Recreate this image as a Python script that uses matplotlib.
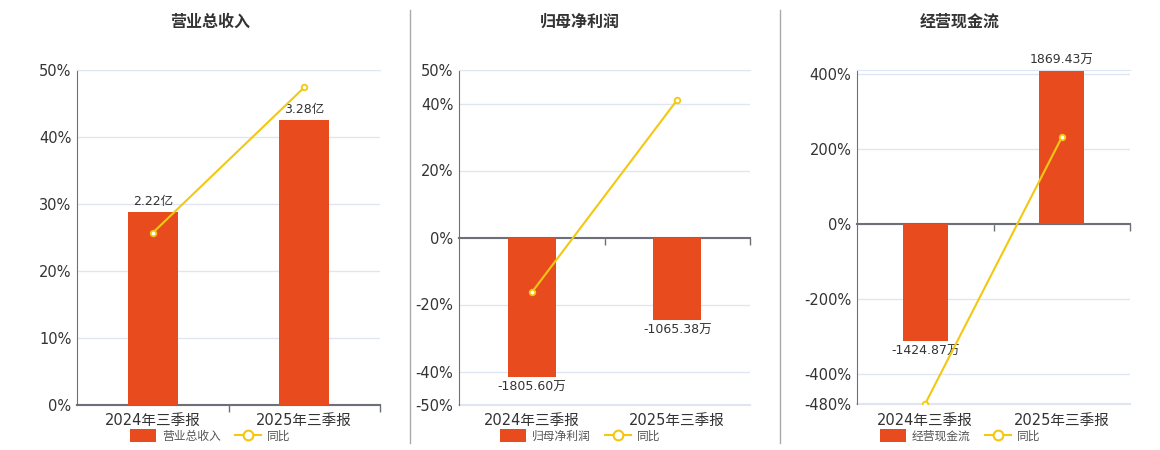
import matplotlib
matplotlib.use("Agg")
import matplotlib.pyplot as plt
import matplotlib.transforms as mtransforms
from matplotlib.lines import Line2D
from matplotlib.patches import Patch

plt.rcParams["font.family"] = ["DejaVu Sans", "Noto Sans CJK SC"]

# data
categories = ["2024年三季报", "2025年三季报"]
titles = ["营业总收入", "归母净利润", "经营现金流"]
units = ["亿", "万", "万"]

revenue = [2.22, 3.28]             # 亿
revenue_yoy = [25.7, 47.4]         # %
net_profit = [-1805.60, -1065.38]  # 万
net_profit_yoy = [-16.4, 41.1]
cash_flow = [-1424.87, 1869.43]    # 万
cash_flow_yoy = [-479.0, 232.0]

bar_series = [revenue, net_profit, cash_flow]
yoy_series = [revenue_yoy, net_profit_yoy, cash_flow_yoy]

pct_limits = [(0, 50), (-50, 50), (-480, 412)]
pct_ticks = [[0, 10, 20, 30, 40, 50],
             [-50, -40, -20, 0, 20, 40, 50],
             [-480, -400, -200, 0, 200, 400]]
# bar units per percent on the hidden bar axis
bar_scale = [0.0772, 43.3, 4.58]

# pixel layout (left, right, top, bottom) and panel centres
W, H = 1160, 450
rects = [(77, 380, 70, 405), (459, 750, 70, 405), (857, 1130, 70, 404)]
centres = [210, 580, 960]
separators = [410, 780]

BAR = "#e84c1e"
LINE = "#f2c811"
GRID = "#e0e6f1"
AXIS = "#6e7079"
TEXT = "#333333"

fig = plt.figure(figsize=(W / 100, H / 100), dpi=100)

for i in range(3):
    l, r, t, b = rects[i]
    rect = [l / W, 1 - b / H, (r - l) / W, (b - t) / H]
    ax = fig.add_axes(rect)
    bax = ax.twinx()
    lax = ax.twinx()
    ax.set_zorder(0)
    bax.set_zorder(1)
    lax.set_zorder(2)
    for a in (bax, lax):
        a.patch.set_visible(False)
        a.axis("off")

    lo, hi = pct_limits[i]
    ax.set_ylim(lo, hi)
    lax.set_ylim(lo, hi)
    bax.set_ylim(lo * bar_scale[i], hi * bar_scale[i])
    for a in (ax, bax, lax):
        a.set_xlim(-0.5, 1.5)

    # percent axis, grid and spines
    ax.set_yticks(pct_ticks[i])
    ax.set_yticklabels([f"{v}%" for v in pct_ticks[i]])
    ax.tick_params(axis="y", length=0, pad=4, labelsize=10.5, labelcolor=TEXT)
    ax.yaxis.grid(True, color=GRID, lw=1)
    ax.set_axisbelow(True)
    ax.axhline(lo, color=GRID, lw=1.5, clip_on=False, zorder=0)
    ax.spines["right"].set_visible(False)
    ax.spines["top"].set_color(GRID)
    ax.spines["left"].set_color(AXIS)
    ax.spines["bottom"].set_color(AXIS)
    ax.spines["bottom"].set_linewidth(1.5)
    ax.spines["bottom"].set_position(("data", 0))
    ax.spines["bottom"].set_zorder(3)
    ax.set_xticks([])
    ax.set_xticks([0.5, 1.5], minor=True)
    ax.tick_params(axis="x", which="minor", length=5, color=AXIS, width=1)

    # category labels at the bottom of the plot
    trans = mtransforms.blended_transform_factory(ax.transData, fig.transFigure)
    for x, cat in enumerate(categories):
        ax.text(x, 1 - 420 / H, cat, transform=trans, ha="center", va="center",
                fontsize=10.5, color=TEXT)

    # bars
    vals = bar_series[i]
    bars = bax.bar(range(len(vals)), vals, width=0.33, color=BAR)
    bax.bar_label(bars, labels=[f"{v:.2f}{units[i]}" for v in vals],
                  padding=3, fontsize=9, color=TEXT)

    # year on year line
    lax.plot(range(len(vals)), yoy_series[i], color=LINE, lw=1.5,
             marker="o", ms=4, mfc="white", mec=LINE, mew=1.3)

    fig.text(centres[i] / W, 1 - 22 / H, titles[i], ha="center", va="center",
             fontsize=11.5, fontweight="bold", color=TEXT)

    handles = [Patch(facecolor=BAR, edgecolor="none"),
               Line2D([], [], color=LINE, lw=1.5, marker="o", ms=7,
                      mfc="white", mec=LINE, mew=1.5)]
    fig.legend(handles, [titles[i], "同比"], loc="center",
               bbox_to_anchor=(centres[i] / W, 1 - 436 / H), ncol=2,
               frameon=False, fontsize=8.5, handlelength=2.2, handleheight=1.2,
               columnspacing=1.2, handletextpad=0.5, labelcolor="#555555")

for x in separators:
    fig.add_artist(Line2D([x / W, x / W], [1 - 10 / H, 1 - 443 / H],
                          transform=fig.transFigure, color="#aaaaaa", lw=1))

fig.savefig("out.png", dpi=100)
plt.close(fig)
